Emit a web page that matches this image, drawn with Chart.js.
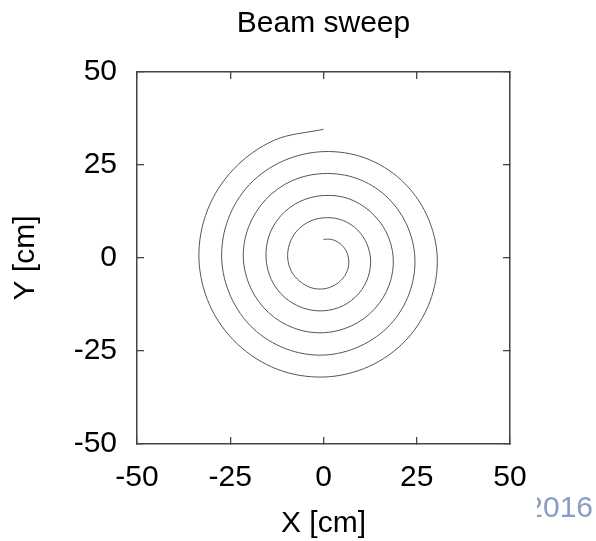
<!DOCTYPE html>
<html>
<head>
<meta charset="utf-8">
<title>Beam sweep</title>
<script src="https://cdn.jsdelivr.net/npm/chart.js@4.4.1/dist/chart.umd.min.js"></script>
<style>
  html, body { margin: 0; padding: 0; background: #fff; }
  #mycanvas { display: block; }
</style>
</head>
<body>
<canvas id="mycanvas" width="596" height="541"></canvas>
<script>
// spiral, 16 points per turn (start at top, clockwise), one row per turn
var beamX = [0, 2.1, 4.1, 5.8, 6.7, 6.6, 5.3, 3.0, 0, -3.3, -6.3, -8.6, -9.6, -9.1, -7.2, -4.0,
             0, 4.3, 8.3, 11.2, 12.6, 12.0, 9.5, 5.3, 0, -5.6, -10.5, -14.0, -15.4, -14.6, -11.4, -6.3,
             0, 6.6, 12.5, 16.8, 18.7, 17.6, 13.7, 7.6, 0, -7.8, -14.7, -19.5, -21.5, -20.1, -15.6, -8.6,
             0, 8.9, 16.7, 22.2, 24.5, 23.0, 17.9, 9.8, 0, -10.1, -18.9, -24.9, -27.3, -25.5, -19.8, -10.8,
             0, 11.1, 20.9, 27.7, 30.5, 28.5, 22.1, 12.1, 0, -12.4, -23.1, -30.5, -33.4, -31.1, -24.0, -13.1,
             0];
var beamY = [5.0, 5.0, 4.1, 2.4, 0, -2.7, -5.3, -7.3, -8.3, -8.0, -6.3, -3.6, 0, 3.8, 7.2, 9.7,
             10.8, 10.4, 8.3, 4.7, 0, -5.0, -9.5, -12.8, -14.2, -13.4, -10.5, -5.8, 0, 6.0, 11.4, 15.2,
             16.8, 16.0, 12.5, 7.0, 0, -7.3, -13.7, -18.2, -20.1, -18.9, -14.7, -8.1, 0, 8.3, 15.6, 20.7,
             22.7, 21.4, 16.7, 9.2, 0, -9.5, -17.9, -23.7, -26.1, -24.4, -18.9, -10.3, 0, 10.6, 19.8, 26.1,
             28.6, 26.9, 20.9, 11.5, 0, -11.8, -22.1, -29.2, -32.0, -29.9, -23.1, -12.7, 0, 12.9, 24.0, 31.7,
             34.6];
var tickValues = [-50, -25, 0, 25, 50];
var chartTitle = "Beam sweep";
var xTitle = "X [cm]";
var yTitle = "Y [cm]";
var cornerText = "2016";

var font = "'Liberation Sans', Arial, Helvetica, sans-serif";
var frameColor = "#444";

var points = [];
for (var i = 0; i < beamX.length; i++) {
    points.push({x: beamX[i], y: beamY[i]});
}

function setTicks(scale) {
    scale.ticks = tickValues.map(function (v) { return {value: v}; });
}

function axis(pos, showLabels, size) {
    return {
        type: 'linear',
        position: pos,
        min: -50,
        max: 50,
        afterBuildTicks: setTicks,
        afterFit: function (scale) {
            if (pos === 'top' || pos === 'bottom') { scale.height = size; } else { scale.width = size; }
        },
        grid: {
            drawOnChartArea: false,
            drawTicks: true,
            tickLength: -7,
            color: frameColor,
            lineWidth: 1.3
        },
        border: { display: true, color: frameColor, width: 1.5 },
        ticks: {
            display: showLabels,
            color: '#000',
            font: { family: font, size: 30 },
            padding: (pos === 'bottom') ? 23 : 27,
            maxRotation: 0
        }
    };
}

// left padding pushes the title over the plot centre, so the left axis is narrower
var scales = {
    x: axis('bottom', true, 97),
    x2: axis('top', false, 30),
    y: axis('left', true, 86),
    y2: axis('right', false, 86)
};
scales.x.title = { display: true, text: xTitle, color: '#000', font: { family: font, size: 30, lineHeight: 1 }, padding: { top: 0, bottom: 2 } };
scales.y.title = { display: true, text: yTitle, color: '#000', font: { family: font, size: 30, lineHeight: 1 }, padding: { top: -40, bottom: 0 } };

// faint leftover year from the slide behind the figure
var cornerPlugin = {
    id: 'cornerText',
    afterDraw: function (chart) {
        var ctx = chart.ctx;
        ctx.save();
        ctx.beginPath();
        ctx.rect(537, 480, 59, 50);
        ctx.clip();
        ctx.fillStyle = '#8a9cc6';
        ctx.font = "30px " + font;
        ctx.textAlign = 'right';
        ctx.textBaseline = 'alphabetic';
        ctx.fillText(cornerText, 593, 517);
        ctx.restore();
    }
};

var ctx = document.getElementById('mycanvas');
var beamChart = new Chart(ctx, {
    type: 'scatter',
    data: {
        datasets: [{
            label: 'Beam',
            data: points,
            showLine: true,
            fill: false,
            tension: 0.34,
            borderColor: '#555',
            borderWidth: 1,
            pointRadius: 0,
            pointHoverRadius: 0
        }]
    },
    options: {
        responsive: false,
        animation: false,
        devicePixelRatio: 1,
        layout: { padding: { left: 51, right: 0, top: 0, bottom: 0 } },
        scales: scales,
        plugins: {
            legend: { display: false },
            tooltip: { enabled: false },
            title: {
                display: true,
                text: chartTitle,
                color: '#000',
                font: { family: font, size: 30, weight: 'normal', lineHeight: 1.2 },
                padding: { top: 6, bottom: 0 }
            }
        }
    },
    plugins: [cornerPlugin]
});
</script>
</body>
</html>
